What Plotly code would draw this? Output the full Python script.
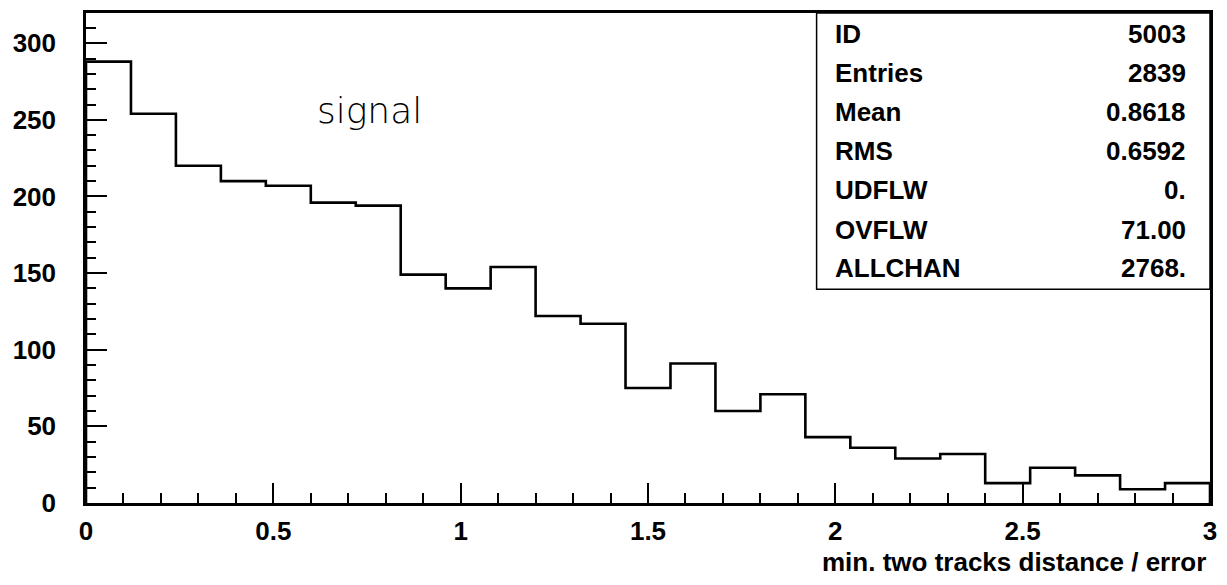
import plotly.graph_objects as go

# ---- data ----
x_min, x_max, n_bins = 0.0, 3.0, 25
counts = [288, 254, 220, 210, 207, 196, 194, 149, 140, 154,
          122, 117, 75, 91, 60, 71, 43, 36, 29, 32,
          13, 23, 18, 9, 13]
stat_labels = ["ID", "Entries", "Mean", "RMS", "UDFLW", "OVFLW", "ALLCHAN"]
stat_values = ["5003", "2839", "0.8618", "0.6592", "0.", "71.00", "2768."]
x_ticks = [0, 0.5, 1, 1.5, 2, 2.5, 3]
x_ticklabels = ["0", "0.5", "1", "1.5", "2", "2.5", "3"]
y_ticks = [0, 50, 100, 150, 200, 250, 300]
title_x = "min. two tracks distance / error"
label_text = "signal"

bw = (x_max - x_min) / n_bins
edges = [x_min + i * bw for i in range(n_bins + 1)]
xs = [x_min] + edges
ys = [0] + counts + [0]

FONT = "Liberation Sans, Arial, sans-serif"

fig = go.Figure()
fig.add_trace(go.Scatter(x=xs, y=ys, mode="lines", line=dict(color="black", width=2.6, shape="hv"),
                         hoverinfo="skip", showlegend=False))

fig.update_layout(
    width=1227, height=585,
    margin=dict(l=86, r=15, t=10, b=82),
    paper_bgcolor="white", plot_bgcolor="white",
    font=dict(family=FONT, size=22, color="black"),
    showlegend=False,
)
fig.update_xaxes(range=[x_min, x_max], showgrid=False, zeroline=False,
                 showline=True, linecolor="black", linewidth=2.5, mirror=True,
                 ticks="inside", ticklen=20, tickwidth=2, tickcolor="black",
                 tickvals=x_ticks, ticktext=x_ticklabels,
                 tickfont=dict(family=FONT, size=26, weight="bold"),
                 ticklabelstandoff=3,
                 minor=dict(ticks="inside", ticklen=10, tickwidth=2, tickcolor="black", dtick=0.1, showgrid=False))
fig.update_yaxes(range=[0, 319.7], showgrid=False, zeroline=False,
                 showline=True, linecolor="black", linewidth=2.5, mirror=True,
                 ticks="inside", ticklen=21, tickwidth=2, tickcolor="black",
                 tickvals=y_ticks,
                 tickfont=dict(family=FONT, size=26, weight="bold"),
                 ticklabelstandoff=22,
                 minor=dict(ticks="inside", ticklen=10, tickwidth=2, tickcolor="black", dtick=10, showgrid=False))

# stats box
fig.add_shape(type="rect", xref="paper", yref="paper", x0=0.650, x1=1.0, y0=0.436, y1=1.0,
              line=dict(color="black", width=1.5), fillcolor="rgba(0,0,0,0)")
row_y = [0.957, 0.878, 0.797, 0.718, 0.639, 0.558, 0.479]
for lab, val, yy in zip(stat_labels, stat_values, row_y):
    fig.add_annotation(xref="paper", yref="paper", x=0.665, y=yy, text=lab, showarrow=False,
                       xanchor="left", yanchor="middle",
                       font=dict(family=FONT, size=26, weight="bold", color="black"))
    fig.add_annotation(xref="paper", yref="paper", x=0.980, y=yy, text=val, showarrow=False,
                       xanchor="right", yanchor="middle",
                       font=dict(family=FONT, size=26, weight="bold", color="black"))

fig.add_annotation(xref="paper", yref="paper", x=0.252, y=0.800, text=label_text, showarrow=False,
                   xanchor="center", yanchor="middle",
                   font=dict(family="DejaVu Sans, sans-serif", size=36, weight=200, color="black"))

fig.add_annotation(xref="paper", yref="paper", x=0.998, y=-0.120, text=title_x, showarrow=False,
                   xanchor="right", yanchor="middle",
                   font=dict(family=FONT, size=26, weight="bold", color="black"))

fig.write_html("out.html")
